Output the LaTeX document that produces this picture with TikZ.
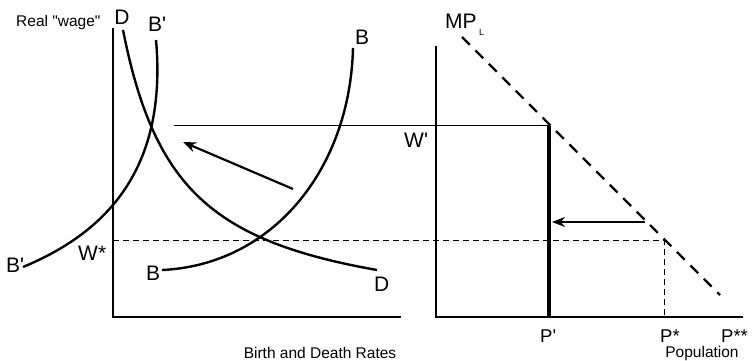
\documentclass[tikz,border=0pt]{standalone}
\usepackage{fontspec}
\newfontfamily\lab{Liberation Sans}
\usetikzlibrary{arrows.meta}
\begin{document}
\begin{tikzpicture}[x=1pt,y=-1pt,
  axis/.style={line width=2pt},
  curve/.style={line width=2.4pt},
  thinline/.style={line width=1pt},
  guide/.style={line width=1pt, dash pattern=on 6pt off 4pt},
  mpl/.style={line width=2.4pt, dash pattern=on 11pt off 8pt},
  arr/.style={line width=2.2pt, -{Stealth[length=13pt,width=10pt]}},
  big/.style={font=\lab\fontsize{21}{23}\selectfont, inner sep=0pt},
  mid/.style={font=\lab\fontsize{18.5}{20}\selectfont, inner sep=0pt},
  small/.style={font=\lab\fontsize{15.5}{17}\selectfont, inner sep=0pt}]
\useasboundingbox (0,0) rectangle (756,361);
% axes
\coordinate (LO) at (113,317);
\coordinate (LT) at (113,28);
\coordinate (LX) at (401,317);
\coordinate (RO) at (436,317);
\coordinate (RT) at (436,46);
\coordinate (RX) at (743,317);
\draw[axis] (LT) -- (LO) -- (LX);
\draw[axis] (RT) -- (RO) -- (RX);
% W' line and P' line
\coordinate (Ws) at (174,126);
\coordinate (Wp) at (549,126);
\coordinate (Pp) at (549,317);
\draw[thinline] (Ws) -- (Wp);
\draw[line width=3.2pt] (Wp) -- (Pp);
% W* guide
\coordinate (Wstar) at (113,240);
\coordinate (E) at (664,240);
\coordinate (Pstar) at (664,317);
\draw[guide] (Wstar) -- (E) -- (Pstar);
% MP_L
\coordinate (M1) at (462,37);
\coordinate (M2) at (720,295);
\draw[mpl] (M1) -- (M2);
% arrows
\coordinate (A1) at (293,189);
\coordinate (A2) at (183,142);
\draw[arr] (A1) -- (A2);
\coordinate (A3) at (645,222);
\coordinate (A4) at (552,222);
\draw[arr, line width=2pt] (A3) -- (A4);
% curves
\draw[curve] plot[domain=123:377, samples=120] (\x, {324.8-171/((\x-65)/100)});
\draw[curve] (162,270) .. controls (272,265) and (350,170) .. (353,48);
\draw[curve] (23,267) .. controls (100,235) and (168,175) .. (156,40);
% labels
\node[small, anchor=base west] (rw) at (16,27) {Real "wage"};
\node[big, anchor=base] (lD) at (122,25) {D};
\node[big, anchor=base west] (lB1) at (148,32) {B'};
\node[big, anchor=base west] (lB2) at (355,45) {B};
\node[big, anchor=base west] (lB3) at (6,272) {B'};
\node[big, anchor=base west] (lW) at (78,260) {W*};
\node[big, anchor=base west] (lB4) at (146,280) {B};
\node[big, anchor=base west] (lD2) at (374,291) {D};
\node[small, anchor=base] (bd) at (320,358) {Birth and Death Rates};
\node[big, anchor=base west] (lWp) at (404,147) {W'};
\node[big, anchor=base west] (mp) at (445,29) {MP};
\node[font=\lab\fontsize{9}{10}\selectfont, inner sep=0pt, anchor=base west] (sub) at (479,36) {L};
\node[mid, anchor=base west] (lP1) at (540,342) {P'};
\node[mid, anchor=base west] (lP2) at (660,342) {P*};
\node[mid, anchor=base west] (lP3) at (721,342) {P**};
\node[small, anchor=base] (pop) at (702,357) {Population};
\end{tikzpicture}
\end{document}
